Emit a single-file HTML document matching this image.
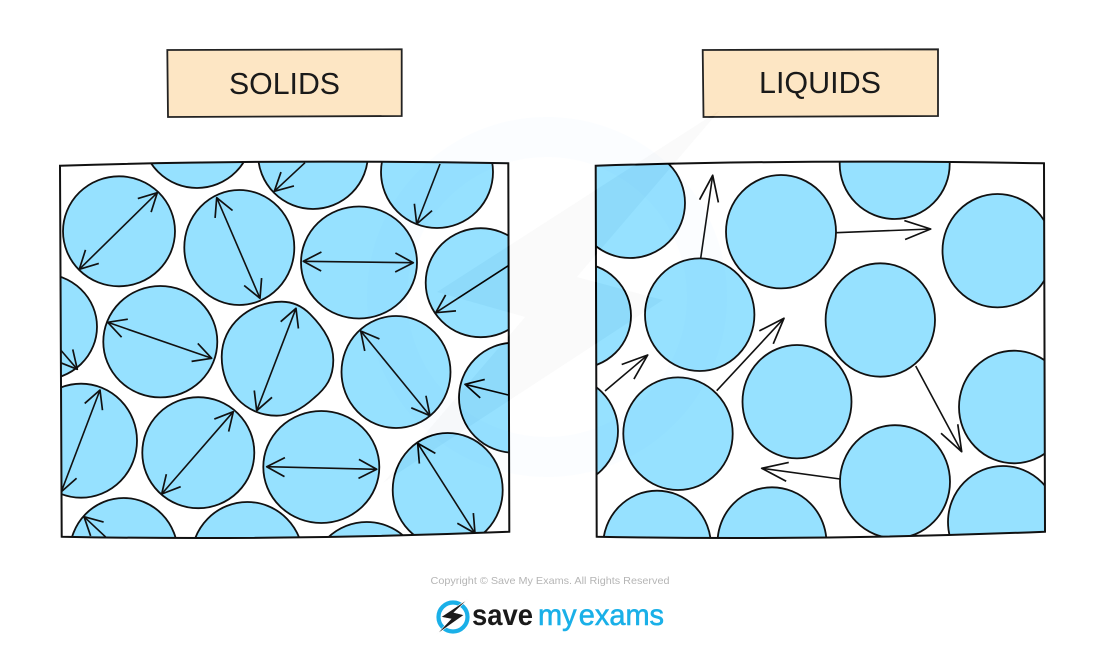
<!DOCTYPE html>
<html lang="en">
<head>
<meta charset="utf-8">
<title>Solids and Liquids</title>
<style>
html,body{margin:0;padding:0;background:#fff;width:1100px;height:646px;overflow:hidden}
svg{display:block}
.c ellipse,.c path{fill:#96e1ff;stroke:#111;stroke-width:1.8}
.a line{stroke:#111;stroke-width:1.6;fill:none}
.d line{marker-start:url(#h);marker-end:url(#h)}
.s line{marker-end:url(#h)}
.r line{marker-end:url(#k)}
.t{font-family:"Liberation Sans",sans-serif;font-size:31px;fill:#1a1a1a}
</style>
</head>
<body>
<svg xmlns="http://www.w3.org/2000/svg" width="1100" height="646" viewBox="0 0 1100 646">
<defs>
<marker id="h" markerUnits="userSpaceOnUse" markerWidth="40" markerHeight="40" refX="30" refY="20" orient="auto-start-reverse" viewBox="0 0 40 40">
<path d="M12 10.5L30 20L12 29.5" fill="none" stroke="#111" stroke-width="1.7" stroke-linejoin="round"/>
</marker>
<marker id="k" markerUnits="userSpaceOnUse" markerWidth="40" markerHeight="40" refX="30" refY="20" orient="auto" viewBox="0 0 40 40">
<path d="M4 10.5L30 20L4 29.5" fill="none" stroke="#111" stroke-width="1.7" stroke-linejoin="round"/>
</marker>
<clipPath id="lb"><path d="M60 165.7Q273 159 508.3 163.3L509.3 531.7Q280 541 61.7 536.7Z"/></clipPath>
<clipPath id="rb"><path d="M595.7 165.7Q810 159 1044 163.3L1045 531.7Q815 541 596.7 536.7Z"/></clipPath>
</defs>

<path d="M167.3 50L401.7 49.3L401.7 116L168 117Z" fill="#fde6c4" stroke="#222" stroke-width="1.8"/>
<text class="t" x="229" y="94" textLength="111" lengthAdjust="spacingAndGlyphs">SOLIDS</text>
<path d="M702.7 50L938 49.3L938 116L703.5 117Z" fill="#fde6c4" stroke="#222" stroke-width="1.8"/>
<text class="t" x="759" y="93" textLength="122" lengthAdjust="spacingAndGlyphs">LIQUIDS</text>

<g clip-path="url(#lb)">
<path d="M60 165.7Q273 159 508.3 163.3L509.3 531.7Q280 541 61.7 536.7Z" fill="#fff"/>
<g class="c">
<ellipse cx="197" cy="133" rx="55" ry="55"/>
<ellipse cx="313" cy="154" rx="55" ry="55"/>
<ellipse cx="437" cy="172" rx="56" ry="56"/>
<ellipse cx="119" cy="231.3" rx="56" ry="55"/>
<ellipse cx="239.3" cy="247.5" rx="55" ry="57.5"/>
<ellipse cx="359" cy="262.5" rx="58" ry="56"/>
<ellipse cx="480.7" cy="282.7" rx="55" ry="54.5"/>
<ellipse cx="42" cy="326.7" rx="55" ry="53"/>
<ellipse cx="160.3" cy="341.7" rx="57" ry="55.7"/>
<path d="M221.7 356.7C221.7 325 250 301.7 281.7 301.7C292 301.7 302 306 310 314C323 327 333.3 343 333.3 360C333.3 378 326 388 314 398C303 408 290 415.7 276.7 415.7C245 415.7 221.7 390 221.7 356.7Z"/>
<ellipse cx="396" cy="372" rx="54.5" ry="56"/>
<ellipse cx="514" cy="397.7" rx="55" ry="55"/>
<ellipse cx="81" cy="440.7" rx="56" ry="57"/>
<ellipse cx="198.3" cy="452.7" rx="56" ry="55.5"/>
<ellipse cx="321.3" cy="467" rx="58" ry="56"/>
<ellipse cx="447.7" cy="490" rx="55" ry="57"/>
<ellipse cx="123.7" cy="553" rx="54" ry="55"/>
<ellipse cx="247.3" cy="559" rx="56" ry="57"/>
<ellipse cx="366.7" cy="578" rx="56" ry="56"/>
</g>
<g class="a d">
<line x1="79.3" y1="269.3" x2="157.3" y2="192.7"/>
<line x1="216.7" y1="197.7" x2="260" y2="298.3"/>
<line x1="303.3" y1="261.3" x2="413.3" y2="262.7"/>
<line x1="107.7" y1="322.3" x2="211.7" y2="358.3"/>
<line x1="296" y1="308.3" x2="256.7" y2="410.7"/>
<line x1="360.7" y1="331" x2="430" y2="415.7"/>
<line x1="100" y1="390" x2="61.3" y2="491.7"/>
<line x1="233.3" y1="411.7" x2="161.7" y2="494"/>
<line x1="266.7" y1="466.7" x2="376.7" y2="469.3"/>
<line x1="417.7" y1="443.3" x2="475" y2="533.3"/>
</g>
<g class="a s">
<line x1="508.3" y1="265.7" x2="435.7" y2="312.7"/>
<line x1="305" y1="162.7" x2="274.3" y2="191.3"/>
<line x1="440" y1="164" x2="416.7" y2="224"/>
<line x1="508.3" y1="395" x2="465" y2="384.3"/>
<line x1="60.7" y1="350" x2="77.3" y2="369.3"/>
<line x1="106.7" y1="538" x2="84" y2="516.7"/>
</g>
</g>
<path d="M60 165.7Q273 159 508.3 163.3L509.3 531.7Q280 541 61.7 536.7Z" fill="none" stroke="#111" stroke-width="2"/>

<g clip-path="url(#rb)">
<path d="M595.7 165.7Q810 159 1044 163.3L1045 531.7Q815 541 596.7 536.7Z" fill="#fff"/>
<g class="c">
<ellipse cx="630" cy="203" rx="55" ry="55"/>
<ellipse cx="578" cy="315.7" rx="53" ry="52.5"/>
<ellipse cx="563" cy="431" rx="55" ry="55"/>
<ellipse cx="699.7" cy="314.7" rx="54.7" ry="56.3"/>
<ellipse cx="781" cy="231.7" rx="55" ry="56.7"/>
<ellipse cx="894.7" cy="164" rx="55" ry="55"/>
<ellipse cx="997.5" cy="250.7" rx="55" ry="56.7"/>
<ellipse cx="880.3" cy="320" rx="54.7" ry="56.7"/>
<ellipse cx="797" cy="401.7" rx="54.5" ry="56.7"/>
<ellipse cx="678" cy="433.7" rx="54.7" ry="56.3"/>
<ellipse cx="1014" cy="407" rx="55" ry="56.3"/>
<ellipse cx="895" cy="481.7" rx="55" ry="56.5"/>
<ellipse cx="1003" cy="522" rx="55" ry="56"/>
<ellipse cx="657" cy="546" rx="54" ry="55.3"/>
<ellipse cx="772" cy="543" rx="54.5" ry="55.7"/>
</g>
<g class="a r">
<line x1="700.7" y1="258.3" x2="712.7" y2="175.3"/>
<line x1="836" y1="232.7" x2="930.7" y2="229"/>
<line x1="605" y1="391" x2="647.7" y2="355"/>
<line x1="716.7" y1="390.7" x2="784" y2="318.3"/>
<line x1="915.7" y1="366" x2="961.7" y2="451.7"/>
<line x1="840" y1="479" x2="761.7" y2="468.3"/>
</g>
</g>
<path d="M595.7 165.7Q810 159 1044 163.3L1045 531.7Q815 541 596.7 536.7Z" fill="none" stroke="#111" stroke-width="2"/>

<circle cx="547" cy="297" r="160" fill="none" stroke="#1ea8e6" stroke-opacity=".018" stroke-width="40"/>
<path d="M720 110L437 292L525 317L383 483L663 300L577 277Z" fill="#000" fill-opacity=".018"/>
<path d="M720 110L437 292L525 317L383 483L663 300L577 277Z" fill="#f3f3f3" style="mix-blend-mode:color-burn"/>

<text x="550" y="584" text-anchor="middle" font-family="'Liberation Sans',sans-serif" font-size="10.5" fill="#b5b5b5" textLength="239" lengthAdjust="spacingAndGlyphs">Copyright © Save My Exams. All Rights Reserved</text>

<circle cx="453" cy="617" r="14.5" fill="none" stroke="#1ab0e8" stroke-width="4.2"/>
<path d="M467.7 599.3L441 617L451 619L436.7 634.3L464 615L454 612.5Z" fill="#1a1a1a" stroke="#fff" stroke-width=".6"/>
<text x="472" y="625" font-family="'Liberation Sans',sans-serif" font-size="30" font-weight="700" fill="#1a1a1a" textLength="61" lengthAdjust="spacingAndGlyphs">save</text>
<text x="538" y="625" font-family="'Liberation Sans',sans-serif" font-size="30" fill="#1ab0e8" stroke="#1ab0e8" stroke-width=".6" word-spacing="-6" textLength="126" lengthAdjust="spacingAndGlyphs">my exams</text>
</svg>
</body>
</html>
